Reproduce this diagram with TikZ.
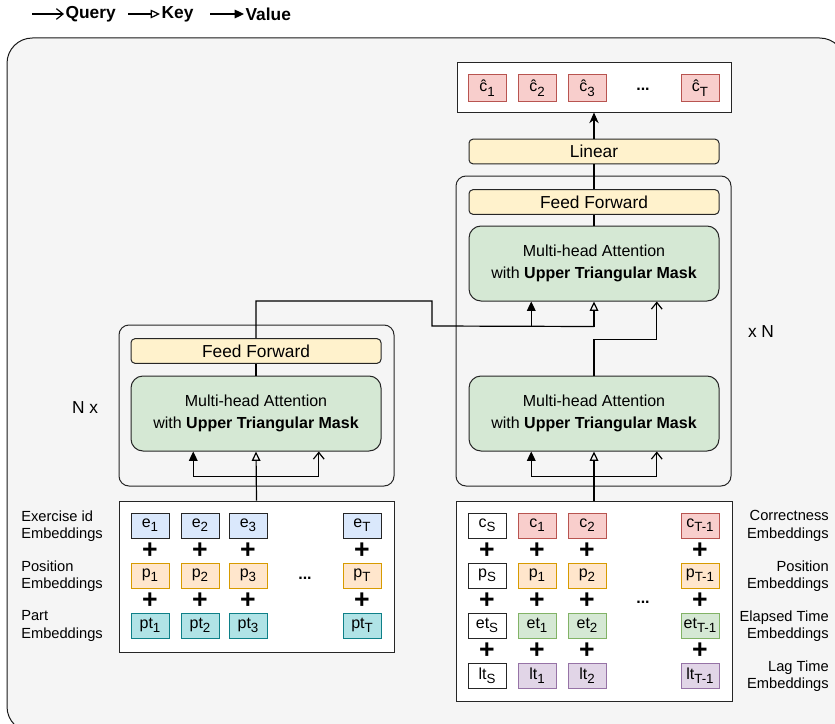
\documentclass[tikz,border=0pt]{standalone}
\usepackage{fontspec}
\setmainfont{Liberation Sans}
\usepackage{tikz}
\usetikzlibrary{arrows.meta,calc}

\definecolor{bgcol}{HTML}{F5F5F5}
\definecolor{mhafill}{HTML}{D5E8D4}
\definecolor{fffill}{HTML}{FFF2CC}
\definecolor{redfill}{HTML}{F8CECC}
\definecolor{redline}{HTML}{B85450}
\definecolor{bluefill}{HTML}{DAE8FC}
\definecolor{orgfill}{HTML}{FFE6CC}
\definecolor{orgline}{HTML}{D79B00}
\definecolor{tealfill}{HTML}{B0E3E6}
\definecolor{tealline}{HTML}{0E8088}
\definecolor{grnline}{HTML}{82B366}
\definecolor{purfill}{HTML}{E1D5E7}
\definecolor{purline}{HTML}{9673A6}

% subscript as the boxes print it
\newcommand{\lowsub}[1]{\raisebox{-0.45ex}{\fontsize{10}{10}\selectfont #1}}
\newcommand{\chat}{\raisebox{0.2ex}{\^{c}}}

\tikzset{
  frame/.style={draw=black!90, fill=bgcol, rounded corners=19pt, line width=0.75pt},
  block/.style={draw=black!85, rounded corners=7.5pt, line width=0.75pt, minimum width=206.25pt},
  mha/.style={draw=black!85, fill=mhafill, rounded corners=9pt, line width=0.75pt,
    minimum width=187.5pt, minimum height=56.25pt, align=center,
    font=\fontsize{12}{17}\selectfont},
  ffbox/.style={draw=black!85, fill=fffill, rounded corners=3pt, line width=0.75pt,
    minimum width=187.5pt, minimum height=18.5pt, inner sep=0pt, font=\fontsize{13}{13}\selectfont},
  embbox/.style={draw=black!85, fill=white, line width=0.75pt},
  cell/.style={draw=black!85, fill=white, line width=0.75pt, minimum width=28.5pt,
    minimum height=18.75pt, inner sep=0pt, font=\fontsize{12}{12}\selectfont},
  plus/.style={inner sep=0pt, font=\bfseries\fontsize{20}{20}\selectfont},
  dots/.style={inner sep=0pt, font=\bfseries\fontsize{12}{12}\selectfont},
  lbl/.style={inner sep=0pt, font=\fontsize{11}{13}\selectfont},
  legend/.style={inner sep=1pt, anchor=west, font=\bfseries\fontsize{13}{13}\selectfont},
  conn/.style={line width=0.9pt},
  query/.style={conn, -{Straight Barb[length=5pt,width=8pt]}},
  key/.style={conn, -{Triangle[open,length=7pt,width=6.5pt]}},
  value/.style={conn, -{Triangle[length=7pt,width=6.5pt]}},
  outarrow/.style={conn, -{Stealth[length=8pt,width=7pt]}}
}

\begin{document}
\begin{tikzpicture}[x=0.75pt,y=-0.75pt]
\useasboundingbox (0,0) rectangle (835,724);

% legend
\node[legend] (lq) at (64,14) {Query};
\node[legend] (lk) at (160,14) {Key};
\node[legend] (lv) at (244,14) {Value};
\coordinate (lq0) at (32,14);
\coordinate (lk0) at (128,14);
\coordinate (lv0) at (210,14);
\draw[query] (lq0) -- (lq.west);
\draw[key] (lk0) -- (lk.west);
\draw[value] (lv0) -- (lv.west);

% background
\begin{scope}
\clip (0,0) rectangle (835,724);
\draw[frame] (7,38) rectangle (845,732);
\end{scope}

% output
\node[embbox, minimum width=205.5pt, minimum height=36.75pt] (outbox) at (594,87.5) {};
\foreach \x/\s [count=\i] in {487/1,537/2,587/3,700/T} {
  \node[cell, fill=redfill, draw=redline, minimum height=19.5pt] (ch\i) at (\x,88) {\chat\lowsub{\s}};
}
\node[dots] (chdots) at (643,89) {...};

% decoder
\node[ffbox] (linear) at (594,151.5) {Linear};
\node[block, minimum height=232.5pt] (rblock) at (593.5,331) {};
\node[ffbox] (rff) at (594,202) {Feed Forward};
\node[mha] (umha) at (594,263.5) {Multi-head Attention\\with \textbf{Upper Triangular Mask}};
\node[mha] (rmha) at (594,413.5) {Multi-head Attention\\with \textbf{Upper Triangular Mask}};
\node[lbl, font=\fontsize{13}{13}\selectfont] (xn) at (761,332) {x N};

% encoder
\node[block, minimum height=120.75pt] (lblock) at (256.5,405.5) {};
\node[ffbox] (lff) at (256,351) {Feed Forward};
\node[mha] (lmha) at (256,413.5) {Multi-head Attention\\with \textbf{Upper Triangular Mask}};
\node[lbl, font=\fontsize{13}{13}\selectfont] (nx) at (85,408) {N x};

% exercise side embeddings
\node[embbox, minimum width=206.25pt, minimum height=113.25pt] (lemb) at (256.5,576.5) {};
\foreach \x/\s [count=\i] in {150/1,200/2,248/3,362/T} {
  \node[cell, fill=bluefill] (e\i) at (\x,525.5) {e\lowsub{\s}};
  \node[plus] (lpa\i) at (\x,551) {+};
  \node[cell, fill=orgfill, draw=orgline] (p\i) at (\x,575.5) {p\lowsub{\s}};
  \node[plus] (lpb\i) at (\x,601) {+};
  \node[cell, fill=tealfill, draw=tealline] (pt\i) at (\x,625.5) {pt\lowsub{\s}};
}
\node[dots] (ldots) at (305,578) {...};
\node[lbl, anchor=west, align=left] (le) at (21,526) {Exercise id\\Embeddings};
\node[lbl, anchor=west, align=left] (lp) at (21,576) {Position\\Embeddings};
\node[lbl, anchor=west, align=left] (lpt) at (21,626) {Part\\Embeddings};

% response side embeddings
\node[embbox, minimum width=207pt, minimum height=150pt] (remb) at (594,601) {};
\node[cell] (cs) at (487,525.5) {c\lowsub{S}};
\node[plus] (rpas) at (487,551) {+};
\node[cell] (ps) at (487,575.5) {p\lowsub{S}};
\node[plus] (rpbs) at (487,601) {+};
\node[cell] (ets) at (487,625.5) {et\lowsub{S}};
\node[plus] (rpcs) at (487,651) {+};
\node[cell] (lts) at (487,675.5) {lt\lowsub{S}};
\foreach \x/\s [count=\i] in {537/1,587/2,700/T-1} {
  \node[cell, fill=redfill, draw=redline] (c\i) at (\x,525.5) {c\lowsub{\s}};
  \node[plus] (rpa\i) at (\x,551) {+};
  \node[cell, fill=orgfill, draw=orgline] (rp\i) at (\x,575.5) {p\lowsub{\s}};
  \node[plus] (rpb\i) at (\x,601) {+};
  \node[cell, fill=mhafill, draw=grnline] (et\i) at (\x,625.5) {et\lowsub{\s}};
  \node[plus] (rpc\i) at (\x,651) {+};
  \node[cell, fill=purfill, draw=purline] (lt\i) at (\x,675.5) {lt\lowsub{\s}};
}
\node[dots] (rdots) at (643,602) {...};
\node[lbl, anchor=east, align=right] (rc) at (829,526) {Correctness\\Embeddings};
\node[lbl, anchor=east, align=right] (rpos) at (829,576) {Position\\Embeddings};
\node[lbl, anchor=east, align=right] (ret) at (829,626) {Elapsed Time\\Embeddings};
\node[lbl, anchor=east, align=right] (rlt) at (829,676) {Lag Time\\Embeddings};

% encoder connections
\coordinate (lbus) at ($(lmha.south)+(0,25)$);
\draw[key] (lemb.north) -- (lmha.south);
\draw[value] (lbus) -| ($(lmha.south west)!.25!(lmha.south east)$);
\draw[query] (lbus) -| ($(lmha.south west)!.75!(lmha.south east)$);
\draw[conn] (lmha) -- (lff);

% lower decoder connections
\coordinate (rbus) at ($(rmha.south)+(0,25)$);
\draw[key] (remb.north) -- (rmha.south);
\draw[value] (rbus) -| ($(rmha.south west)!.25!(rmha.south east)$);
\draw[query] (rbus) -| ($(rmha.south west)!.75!(rmha.south east)$);

% encoder output into upper decoder
\coordinate (ubus) at ($(umha.south)+(0,25)$);
\coordinate (cross1) at (432,301);
\coordinate (cross2) at (432,326);
\coordinate (uval) at ($(umha.south west)!.25!(umha.south east)$);
\draw[conn] (lff.north) |- (cross1) -- (cross2) -- (ubus);
\draw[value] (cross2 -| uval) -- (uval);
\draw[key] (ubus) -- (umha.south);
\draw[query] (rmha.north) -- ++(0,-36) -| ($(umha.south west)!.75!(umha.south east)$);

% decoder output
\draw[conn] (umha) -- (rff);
\draw[conn] (rff) -- (linear);
\draw[outarrow] (linear) -- (outbox);
\end{tikzpicture}
\end{document}
